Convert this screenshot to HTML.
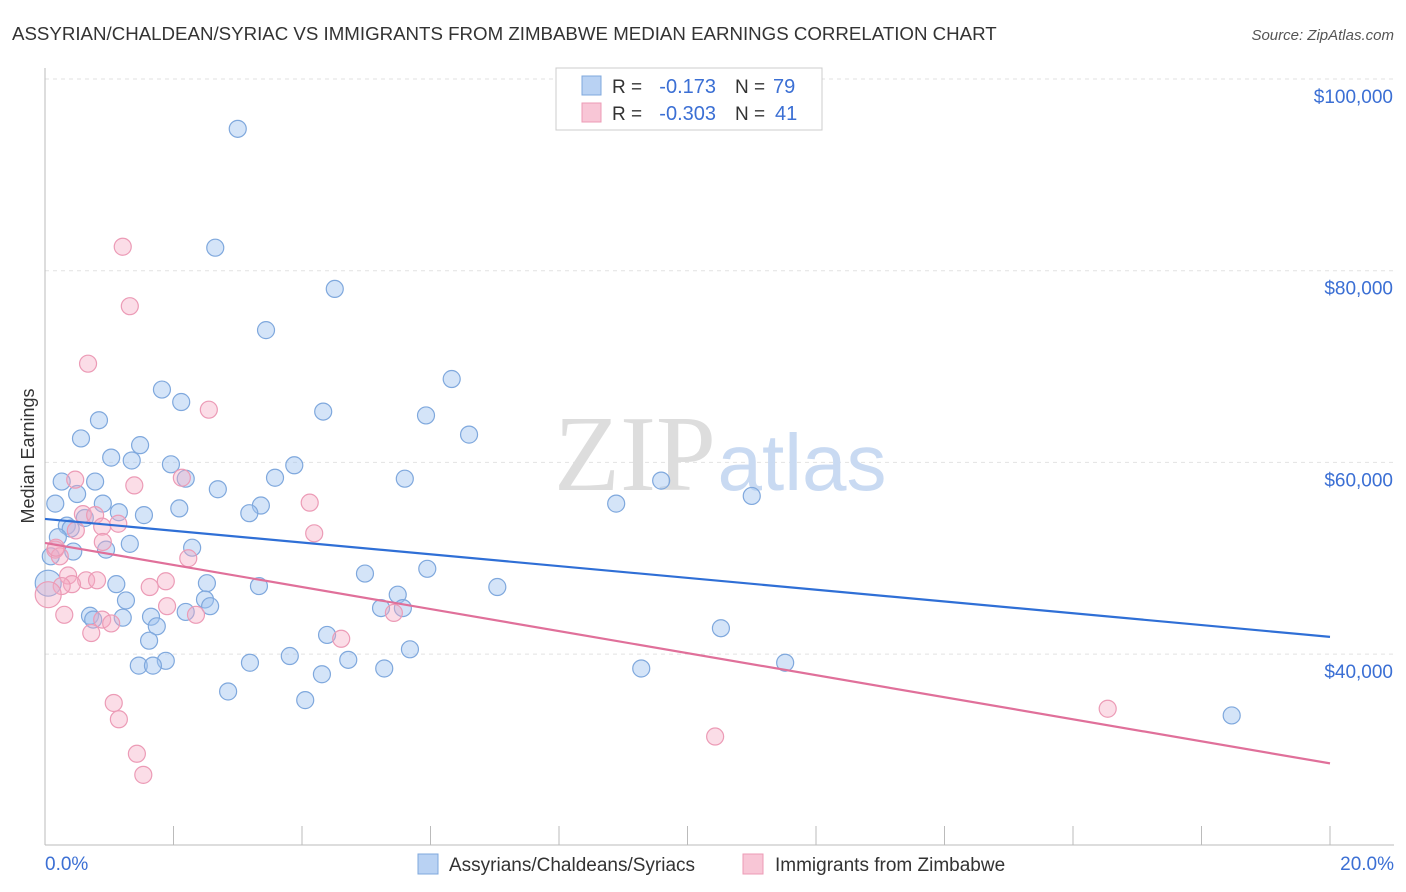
<!DOCTYPE html>
<html><head><meta charset="utf-8"><style>
body{margin:0;background:#fff;font-family:"Liberation Sans",sans-serif}
svg{display:block}
</style></head><body>
<svg id="chart" width="1406" height="892" xmlns="http://www.w3.org/2000/svg" font-family="Liberation Sans, sans-serif">
<text x="12" y="40" font-size="18.7" fill="#333">ASSYRIAN/CHALDEAN/SYRIAC VS IMMIGRANTS FROM ZIMBABWE MEDIAN EARNINGS CORRELATION CHART</text>
<text x="1394" y="40" font-size="15" fill="#555" text-anchor="end" font-style="italic">Source: ZipAtlas.com</text>
<g id="grid"></g>
<g><text x="635" y="490" font-size="108" fill="#ddd" font-family="Liberation Serif, serif" text-anchor="middle">ZIP</text><text x="802" y="490" font-size="80" fill="#c9daf2" text-anchor="middle">atlas</text></g>
<g id="axes"></g>
<g id="pts"></g>
<g id="trends"></g>
<text transform="translate(34,456) rotate(-90)" font-size="18" fill="#333" text-anchor="middle">Median Earnings</text>
<text x="45" y="870" font-size="19" fill="#3b6fd4">0.0%</text>
<text x="1394" y="870" font-size="19" fill="#3b6fd4" text-anchor="end">20.0%</text>
<g>
<rect x="556" y="68" width="266" height="62" fill="#fff" stroke="#ccc"/>
<rect x="582" y="76" width="19" height="19" fill="#b9d2f3" stroke="#7fa8dd"/>
<rect x="582" y="103" width="19" height="19" fill="#f8c6d6" stroke="#ec9bb6"/>
<text x="612" y="93" font-size="19" fill="#333">R =</text>
<text x="716" y="93" font-size="20" fill="#3b6fd4" text-anchor="end">-0.173</text>
<text x="735" y="93" font-size="19" fill="#333">N =</text>
<text x="773" y="93" font-size="20" fill="#3b6fd4">79</text>
<text x="612" y="120" font-size="19" fill="#333">R =</text>
<text x="716" y="120" font-size="20" fill="#3b6fd4" text-anchor="end">-0.303</text>
<text x="735" y="120" font-size="19" fill="#333">N =</text>
<text x="775" y="120" font-size="20" fill="#3b6fd4">41</text>
</g>
<g>
<rect x="418" y="854" width="20" height="20" fill="#b9d2f3" stroke="#7fa8dd"/>
<text x="449" y="871" font-size="19" fill="#333">Assyrians/Chaldeans/Syriacs</text>
<rect x="743" y="854" width="20" height="20" fill="#f8c6d6" stroke="#ec9bb6"/>
<text x="775" y="871" font-size="19" fill="#333">Immigrants from Zimbabwe</text>
</g>
</svg>
<script>
const yTicks=[40000,60000,80000,100000];
const yTickLabels=["$40,000","$60,000","$80,000","$100,000"];
const xTicks=[0,2,4,6,8,10,12,14,16,18,20];
const blueX=[3.00,2.65,4.51,3.44,6.33,1.82,2.12,4.33,5.93,0.84,6.60,0.56,1.48,1.03,1.35,1.96,3.88,5.60,9.59,0.26,0.78,2.19,2.69,0.50,11.00,0.16,0.90,8.89,3.58,3.36,2.09,1.15,1.54,3.18,0.62,0.34,0.40,0.20,1.32,0.95,2.29,0.44,0.09,4.98,5.95,7.04,2.52,3.33,1.11,5.49,1.26,2.49,2.57,5.23,5.57,0.70,0.75,1.21,1.65,2.19,1.74,10.52,4.39,1.62,5.68,3.81,1.88,3.19,1.46,1.68,4.72,5.28,9.28,11.52,4.31,2.85,4.05,18.47,0.05];
const blueY=[94800,82400,78100,73800,68700,67600,66300,65300,64900,64400,62900,62500,61800,60500,60200,59800,59700,58300,58100,58000,58000,58300,57200,56700,56500,55700,55700,55700,58400,55500,55200,54800,54500,54700,54200,53400,53100,52200,51500,50900,51100,50700,50200,48400,48900,47000,47400,47100,47300,46200,45600,45700,45000,44800,44800,44000,43600,43800,43900,44400,42900,42700,42000,41400,40500,39800,39300,39100,38800,38800,39400,38500,38500,39100,37900,36100,35200,33600,47400];
const pinkX=[1.21,1.32,0.67,2.55,2.13,0.47,1.39,4.12,0.59,0.78,1.14,0.89,0.48,4.19,0.90,0.16,0.23,2.23,0.36,0.64,0.81,1.88,0.42,1.63,0.26,0.05,1.90,2.35,0.30,0.89,1.03,0.72,4.61,5.43,1.07,1.15,1.43,1.53,10.43,16.54,0.17];
const pinkY=[82500,76300,70300,65500,58400,58200,57600,55800,54600,54500,53600,53300,52900,52600,51700,50900,50200,50000,48200,47700,47700,47600,47300,47000,47100,46200,45000,44100,44100,43600,43200,42200,41600,44300,34900,33200,29600,27400,31400,34300,51100];
const blueTrend=[54100,41800];
const pinkTrend=[51600,28600];
const NS="http://www.w3.org/2000/svg";
const xs=v=>45+v*64.25;
const ys=v=>79+(100000-v)*0.009585;
function mk(t,a,p){const e=document.createElementNS(NS,t);for(const k in a)e.setAttribute(k,a[k]);p.appendChild(e);return e;}
const grid=document.getElementById('grid'),axes=document.getElementById('axes');
yTicks.forEach((v,i)=>{
 const l=mk('line',{x1:45,x2:1394,y1:ys(v),y2:ys(v),stroke:'#e2e2e2','stroke-dasharray':'4,4'},grid);
 
 
 const t=mk('text',{x:1393,y:ys(v)+24,'font-size':19,fill:'#3b6fd4','text-anchor':'end'},axes);
 t.textContent=yTickLabels[i];
 
 
});
mk('line',{x1:45,x2:45,y1:68,y2:845,stroke:'#bbb'},axes);
mk('line',{x1:45,x2:1394,y1:845,y2:845,stroke:'#bbb'},axes);
xTicks.forEach(v=>{const l=mk('line',{x1:xs(v),x2:xs(v),y1:826,y2:845,stroke:'#bbb'},axes);
 
 });
const pts=document.getElementById('pts');
function drawPts(X,Y,fill,stroke,name){X.forEach((x,i)=>{const big=x<0.07;
 const c=mk('circle',{cx:xs(x),cy:ys(Y[i]),r:big?13:8.5,fill:fill,stroke:stroke,'stroke-width':1.2},pts);
 
 });}
drawPts(blueX,blueY,'rgba(160,196,240,0.45)','#7fa8dd','point-assyrians');
drawPts(pinkX,pinkY,'rgba(245,170,195,0.4)','#ec9bb6','point-zimbabwe');
const tr=document.getElementById('trends');
const b=mk('line',{x1:xs(0),x2:xs(20),y1:ys(blueTrend[0]),y2:ys(blueTrend[1]),stroke:'#2f6fd6','stroke-width':2.2},tr);


const p=mk('line',{x1:xs(0),x2:xs(20),y1:ys(pinkTrend[0]),y2:ys(pinkTrend[1]),stroke:'#e0709a','stroke-width':2.2},tr);


</script>
</body></html>
